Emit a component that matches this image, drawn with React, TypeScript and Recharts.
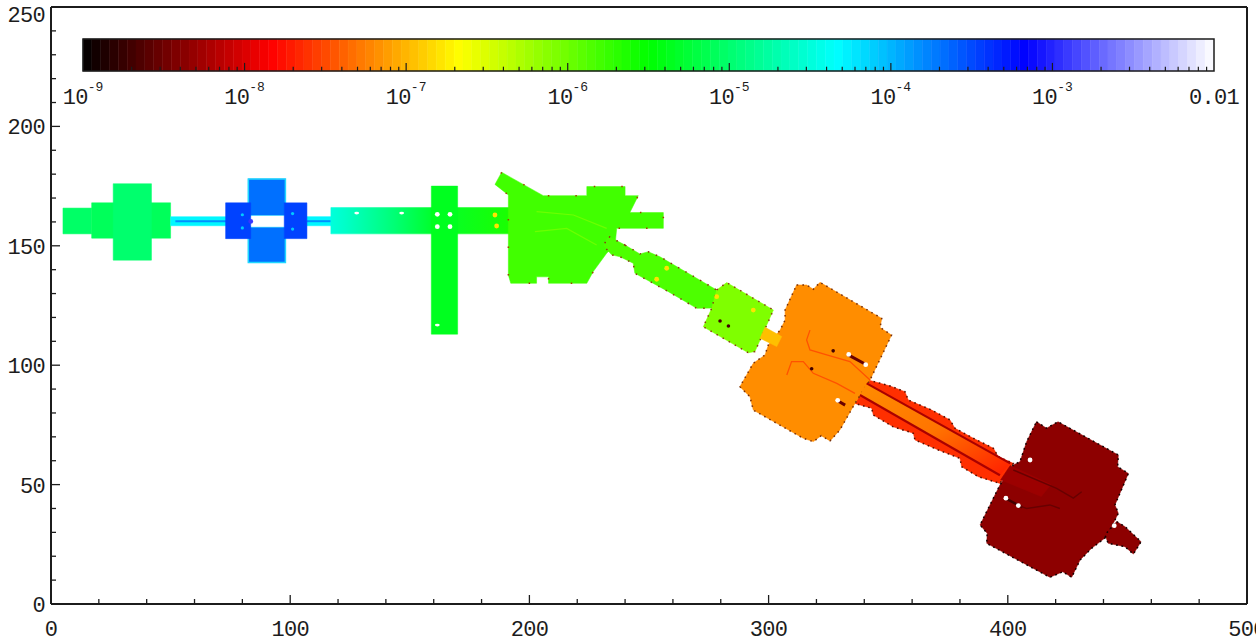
import React from 'react';
import { ComposedChart, XAxis, YAxis, Scatter, ReferenceArea, ReferenceLine } from 'recharts';

const FONT = '"Liberation Mono", monospace';
const INK = '#1c1c1c';

const xTicks = [0, 20, 40, 60, 80, 100, 120, 140, 160, 180, 200, 220, 240, 260, 280, 300, 320, 340, 360, 380, 400, 420, 440, 460, 480, 500];
const yTicks = [0, 10, 20, 30, 40, 50, 60, 70, 80, 90, 100, 110, 120, 130, 140, 150, 160, 170, 180, 190, 200, 210, 220, 230, 240, 250];

// colour bar
const cbarMin = 1e-9;
const cbarMax = 1e-2;
const cbarSteps = 128;
const cbarStops = ['#000000', '#ff0000', '#ffff00', '#00ff00', '#00ffff', '#0000ff', '#ffffff'];
const cbarLabels = [
  { x: 1e-9, y: 212.7, base: '10', exp: '-9' },
  { x: 1e-8, y: 212.7, base: '10', exp: '-8' },
  { x: 1e-7, y: 212.7, base: '10', exp: '-7' },
  { x: 1e-6, y: 212.7, base: '10', exp: '-6' },
  { x: 1e-5, y: 212.7, base: '10', exp: '-5' },
  { x: 1e-4, y: 212.7, base: '10', exp: '-4' },
  { x: 1e-3, y: 212.7, base: '10', exp: '-3' },
  { x: 1e-2, y: 212.7, base: '0.01', exp: '' },
];
const cbarDecades = [1e-9, 1e-8, 1e-7, 1e-6, 1e-5, 1e-4, 1e-3, 1e-2];
const cbarMinors = [2, 3, 4, 5, 6, 7, 8, 9];

// map outlines, x/y in plot units
const crossArm = [[5, 155], [17, 155], [17, 165.8], [5, 165.8]];
const crossMid = [[17, 153.2], [50, 153.2], [50, 168], [17, 168]];
const crossUp = [[26, 144], [42, 144], [42, 176], [26, 176]];
const linkA = [[50, 158.4], [74, 158.4], [74, 162.2], [50, 162.2]];
const linkB = [[107, 158.4], [118, 158.4], [118, 162.2], [107, 162.2]];
const linkCoreA = [[52, 160.3], [74, 160.3]];
const linkCoreB = [[107, 160.3], [117, 160.3]];
const blueLeft = [[73, 153], [83.5, 153], [83.5, 168], [73, 168]];
const blueRight = [[97.5, 153], [107, 153], [107, 168], [97.5, 168]];
const blueUp = [[82.5, 162.5], [98, 162.5], [98, 178], [82.5, 178]];
const blueDown = [[82.5, 143], [98, 143], [98, 158], [82.5, 158]];
const blueHole = [[83.6, 158], [99, 158], [99, 162.5], [83.6, 162.5]];
const bar = [[117, 155], [192, 155], [192, 166], [117, 166]];
const stem = [[159, 113], [170, 113], [170, 175], [159, 175]];
const body = [
  [188.4, 180.8], [185.6, 175.7], [191.2, 171.3], [191.2, 137.8], [192.2, 134.3], [203, 134.3], [203, 137],
  [208, 137], [208, 134.3], [224, 134.3], [226.7, 139.2], [232.3, 146.9], [235.8, 150.3], [236.5, 157.3],
  [256, 157.3], [256, 163.9], [242, 163.9], [245.5, 171], [240, 171], [240, 174.8], [224, 174.8], [224, 171], [205.8, 171],
];
const bodyLineA = [[202.3, 155.9], [215.6, 157.3], [228.1, 150.3]];
const bodyLineB = [[203, 164.3], [218.4, 162.9], [232.3, 157.3]];
const corridor = [
  [240, 150.3], [246.2, 146.6], [249.7, 147.5], [254.6, 145.4], [278.3, 131.5], [279, 124], [270, 123.8],
  [258.1, 130.8], [244.1, 138.5], [243.4, 142.7], [237.9, 145.4], [234.4, 146.2], [231, 150], [233, 154],
];
const panel = [
  [278.3, 131.5], [282.5, 134.6], [302, 123.1], [294.3, 105.7], [291.5, 105.2], [272.7, 116.1], [276.2, 123.8],
];
const neck = [[298.5, 115.9], [305.5, 112], [303.4, 107.8], [296.4, 111.3]];
const orangeBlock = [
  [311.7, 133.6], [315.9, 133.6], [318.7, 131.8], [321.5, 134.7], [347.3, 119.6], [346.6, 115.8], [351.4, 112.6],
  [342.4, 93.8], [336.1, 84], [329.8, 72.9], [325.7, 68.3], [322, 70.5], [318.7, 68], [314.5, 69.4], [293.6, 81.2], [292.2, 86.8],
  [288, 91], [293.6, 100.8], [298.5, 104.3], [299.9, 108.5], [304.8, 114.7], [306.9, 118.9], [306.9, 123.1],
];
const orangeLineA = [[317.3, 114.7], [315.9, 110.6], [317.3, 106.4], [324.3, 104.3], [334, 101.5], [342.4, 93.8]];
const orangeLineB = [[307.6, 95.9], [309.6, 101.5], [314.5, 101.5], [318.7, 96.6], [328.5, 92.4], [336.1, 88.2]];
const orangeSlotA = [[333.3, 104.3], [340.3, 100.5]];
const orangeSlotB = [[328.9, 85.1], [332, 83.3]];
const wing = [
  [341.7, 93.8], [350.8, 91.3], [357, 88.9], [358.4, 85.4], [368.2, 81.2], [375.8, 77.1], [377.9, 73.6], [385.6, 69.4],
  [394, 65.2], [396, 61.7], [402.3, 58.9], [396.7, 50.5], [387.7, 53.3], [380.7, 57.5], [380, 61], [371, 64.5],
  [361.2, 68.7], [360.5, 71.5], [352.1, 74.2], [343.8, 79.1], [343.1, 82], [336, 84],
];
const core = [[341, 92.4], [401, 58.9], [396.7, 53.9], [338.2, 87.5]];
const coreEdgeTop = [[341, 92.4], [401, 58.9]];
const coreEdgeBottom = [[338.2, 87.5], [396.7, 53.9]];
const darkBlock = [
  [412, 76.3], [416.2, 73.6], [421, 76.3], [446.2, 62.4], [445.9, 57.5], [450.4, 54.7], [444.8, 41.5], [446.2, 38],
  [441.3, 28.2], [435, 23.3], [430.2, 18.4], [426.7, 11.2], [423, 13.5], [417.6, 11.2], [391.2, 25.4], [391.4, 29.6], [388.4, 33.1],
  [396.7, 49.8], [402.3, 58.2], [405.1, 59.6], [407.9, 68],
];
const darkTail = [[445.5, 34.5], [449, 32.4], [455.7, 26.1], [452.5, 20.9], [449, 24], [442, 25.4], [440.6, 28.9]];
const darkInlet = [[401, 58], [418, 50], [414, 45], [397, 52]];
const darkSlot = [[399.5, 44], [406, 40.5]];
const darkLineA = [[402.3, 56.1], [420.4, 48.4], [427.4, 44.3], [430.9, 47]];
const darkLineB = [[404.4, 41.2], [407.9, 40], [417.6, 41.5], [421.8, 40]];

const holes = [
  { x: 161.5, y: 163.2 }, { x: 166.8, y: 163.2 }, { x: 161.5, y: 158 }, { x: 166.8, y: 158 },
  { x: 409.3, y: 60.3 }, { x: 399.2, y: 44.3 }, { x: 404.4, y: 41.2 }, { x: 444.5, y: 32.8 },
  { x: 333.5, y: 104.5 }, { x: 340.6, y: 100.2 }, { x: 328.9, y: 85.3 },
];
const smallHoles = [{ x: 127.8, y: 163.7 }, { x: 146.6, y: 163.7 }, { x: 161.5, y: 116.8 }];
const hotSpots = [
  { x: 185.6, y: 162.9 }, { x: 186.3, y: 158.3 }, { x: 257.4, y: 140.6 }, { x: 253.2, y: 136 },
  { x: 278.3, y: 128.7 }, { x: 293.6, y: 123.1 },
];
const darkSpots = [{ x: 279.7, y: 118.5 }, { x: 283.2, y: 116.4 }, { x: 327, y: 106 }, { x: 318, y: 98.5 }];
const blueDarkSpots = [{ x: 83.5, y: 160.2 }];
const blueLightSpots = [{ x: 80, y: 163 }, { x: 80, y: 157.5 }, { x: 101, y: 163.5 }, { x: 101, y: 157 }];

const colourOf = (v: number) => {
  const t = (Math.log10(v) + 9) / 7;
  const pos = Math.min(Math.max(t, 0), 1) * (cbarStops.length - 1);
  const i = Math.min(Math.floor(pos), cbarStops.length - 2);
  const f = pos - i;
  const hex = (s: string, at: number) => parseInt(s.slice(at, at + 2), 16);
  const c = [1, 3, 5].map((at) => Math.round(hex(cbarStops[i], at) * (1 - f) + hex(cbarStops[i + 1], at) * f));
  return `rgb(${c[0]},${c[1]},${c[2]})`;
};

const toPoints = (pairs: number[][]) => pairs.map(([x, y]) => ({ x, y }));
const noDot = () => <g />;

const fillLine = (fill: string, rim?: string, dash?: string) => (props: any) => {
  const pts = props.points.map((p: any) => `${p.x},${p.y}`).join(' ');
  return (
    <g style={{ filter: 'blur(0.7px)' }}>
      <polygon points={pts} fill={fill} stroke={fill} strokeWidth={0.5} />
      {rim && <polygon points={pts} fill="none" stroke={rim} strokeWidth={1.5} strokeDasharray={dash} />}
    </g>
  );
};

const strokeLine = (colour: string, width: number) => (props: any) => (
  <polyline
    points={props.points.map((p: any) => `${p.x},${p.y}`).join(' ')}
    fill="none"
    stroke={colour}
    strokeWidth={width}
    style={{ filter: 'blur(0.7px)' }}
  />
);

const region = (key: string, pairs: number[][], value: number, rim?: string, dash?: string) => (
  <Scatter key={key} data={toPoints(pairs)} line={fillLine(colourOf(value), rim, dash)} shape={noDot} isAnimationActive={false} />
);
const trace = (key: string, pairs: number[][], value: number, width: number) => (
  <Scatter key={key} data={toPoints(pairs)} line={strokeLine(colourOf(value), width)} shape={noDot} isAnimationActive={false} />
);
const spots = (key: string, data: any[], value: number, r: number) => (
  <Scatter key={key} data={data} isAnimationActive={false}
    shape={(p: any) => <circle cx={p.cx} cy={p.cy} r={r} fill={colourOf(value)} style={{ filter: 'blur(0.6px)' }} />} />
);

const tickText = { fontFamily: FONT, fontSize: 22, letterSpacing: -0.7, fill: INK };

const BottomTick = ({ x, y, payload }: any) => {
  const major = payload.value % 100 === 0;
  return (
    <g>
      <line x1={x} x2={x} y1={y} y2={y - (major ? 9 : 5)} stroke={INK} strokeWidth={1.3} />
      {major && <text x={x} y={y + 32} textAnchor="middle" {...tickText}>{payload.value}</text>}
    </g>
  );
};
const TopTick = ({ x, y, payload }: any) => {
  const major = payload.value % 100 === 0;
  return <line x1={x} x2={x} y1={y} y2={y + (major ? 9 : 5)} stroke={INK} strokeWidth={1.3} />;
};
const LeftTick = ({ x, y, payload }: any) => {
  const major = payload.value % 50 === 0;
  return (
    <g>
      <line x1={x} x2={x + (major ? 9 : 5)} y1={y} y2={y} stroke={INK} strokeWidth={1.3} />
      {major && <text x={x - 6} y={Math.max(y, 14) + 8} textAnchor="end" {...tickText}>{payload.value}</text>}
    </g>
  );
};
const RightTick = ({ x, y, payload }: any) => {
  const major = payload.value % 50 === 0;
  return <line x1={x} x2={x - (major ? 9 : 5)} y1={y} y2={y} stroke={INK} strokeWidth={1.3} />;
};

const CbarLabel = ({ cx, cy, payload }: any) => (
  <text x={cx} y={cy + 8} textAnchor="middle" {...tickText}>
    {payload.base}
    {payload.exp && <tspan dy={-13} fontSize={13} letterSpacing={0}>{payload.exp}</tspan>}
  </text>
);

const cbarCells = Array.from({ length: cbarSteps }, (_, i) => {
  const lo = cbarMin * Math.pow(10, (7 * i) / cbarSteps);
  const hi = cbarMin * Math.pow(10, (7 * (i + 1)) / cbarSteps);
  return { lo, hi, colour: colourOf(Math.sqrt(lo * hi)) };
});

export default function App() {
  return (
    <div style={{ position: 'absolute', left: 0, top: 0, width: 1256, height: 642, overflow: 'hidden', background: '#fff' }}>
      <ComposedChart width={1256} height={642} margin={{ top: 0, right: 0, bottom: 0, left: 0 }}>
        <defs>
          <linearGradient id="barFade" x1="0" y1="0" x2="1" y2="0">
            <stop offset="0" stopColor={colourOf(3.2e-5)} />
            <stop offset="0.08" stopColor={colourOf(2.6e-5)} />
            <stop offset="0.35" stopColor={colourOf(1.1e-5)} />
            <stop offset="0.55" stopColor={colourOf(5.3e-6)} />
            <stop offset="1" stopColor={colourOf(2.4e-6)} />
          </linearGradient>
          <linearGradient id="coreFade" x1="0" y1="0" x2="1" y2="1">
            <stop offset="0" stopColor={colourOf(6.5e-8)} />
            <stop offset="0.5" stopColor={colourOf(5e-8)} />
            <stop offset="1" stopColor={colourOf(2e-8)} />
          </linearGradient>
        </defs>
        <XAxis dataKey="x" type="number" domain={[0, 500]} ticks={xTicks} interval={0} height={38} tickSize={0} tickMargin={0}
          tickLine={false} tick={BottomTick} axisLine={{ stroke: INK, strokeWidth: 2 }} />
        <XAxis xAxisId="top" orientation="top" dataKey="x" type="number" domain={[0, 500]} ticks={xTicks} interval={0} height={7} tickSize={0} tickMargin={0}
          tickLine={false} tick={TopTick} axisLine={{ stroke: INK, strokeWidth: 2 }} />
        <XAxis xAxisId="cb" dataKey="x" type="number" scale="log" domain={[cbarMin, cbarMax]} padding={{ left: 32, right: 33 }} hide />
        <YAxis dataKey="y" type="number" domain={[0, 250]} ticks={yTicks} interval={0} width={51} tickSize={0} tickMargin={0}
          tickLine={false} tick={LeftTick} axisLine={{ stroke: INK, strokeWidth: 2 }} />
        <YAxis yAxisId="right" orientation="right" dataKey="y" type="number" domain={[0, 250]} ticks={yTicks} interval={0} width={9} tickSize={0} tickMargin={0}
          tickLine={false} tick={RightTick} axisLine={{ stroke: INK, strokeWidth: 2 }} />

        {cbarCells.map((c, i) => (
          <ReferenceArea key={i} xAxisId="cb" x1={c.lo} x2={c.hi} y1={223.2} y2={236.6} fill={c.colour} fillOpacity={1} stroke={c.colour} strokeWidth={0.5} />
        ))}
        <ReferenceArea xAxisId="cb" x1={cbarMin} x2={cbarMax} y1={223.2} y2={236.6} fill="none" stroke={INK} strokeWidth={1.5} />
        {cbarDecades.slice(0, -1).flatMap((d) => cbarMinors.map((m) => (
          <ReferenceLine key={d * m} xAxisId="cb" stroke={INK} strokeWidth={1.2}
            segment={[{ x: d * m, y: 223.2 }, { x: d * m, y: 225 }]} />
        )))}
        {cbarDecades.slice(1, -1).map((d) => (
          <ReferenceLine key={d} xAxisId="cb" stroke={INK} strokeWidth={1.2}
            segment={[{ x: d, y: 223.2 }, { x: d, y: 226.6 }]} />
        ))}
        <Scatter xAxisId="cb" data={cbarLabels} shape={CbarLabel} isAnimationActive={false} />

        {region('crossArm', crossArm, 9.3e-6)}
        {region('crossMid', crossMid, 8.2e-6)}
        {region('crossUp', crossUp, 1.0e-5)}
        {region('linkA', linkA, 5e-5)}
        {region('linkB', linkB, 5e-5)}
        {trace('linkCoreA', linkCoreA, 1.5e-4, 2)}
        {trace('linkCoreB', linkCoreB, 1.5e-4, 2)}
        {region('blueUp', blueUp, 2.1e-4, '#20d8ff')}
        {region('blueDown', blueDown, 2.1e-4, '#20d8ff')}
        <Scatter data={toPoints(blueHole)} line={fillLine('#ffffff')} shape={noDot} isAnimationActive={false} />
        {region('blueLeft', blueLeft, 3.4e-4)}
        {region('blueRight', blueRight, 3.4e-4)}
        {spots('blueDark', blueDarkSpots, 1.2e-3, 2.4)}
        {spots('blueLight', blueLightSpots, 8e-5, 1.6)}
        <Scatter data={toPoints(bar)} line={fillLine('url(#barFade)')} shape={noDot} isAnimationActive={false} />
        {region('stem', stem, 4.4e-6)}
        {region('body', body, 1.6e-6, '#a04000', '1.5 26')}
        {trace('bodyLineA', bodyLineA, 1e-6, 1.2)}
        {trace('bodyLineB', bodyLineB, 1e-6, 1.2)}
        {region('corridor', corridor, 1.4e-6, '#8a3a10', '1.5 7')}
        {region('panel', panel, 8.3e-7, '#8a3a10', '1.5 5.5')}
        {region('wing', wing, 2.4e-8, '#500f00', '1.6 3.8')}
        {region('orangeBlock', orangeBlock, 6.5e-8, '#7a3008', '1.6 4.2')}
        {region('neck', neck, 1.1e-7)}
        {trace('orangeLineA', orangeLineA, 3.5e-8, 1.3)}
        {trace('orangeLineB', orangeLineB, 3.5e-8, 1.3)}
        {trace('orangeSlotA', orangeSlotA, 3e-9, 3)}
        {trace('orangeSlotB', orangeSlotB, 3e-9, 3)}
        <Scatter data={toPoints(core)} line={fillLine('url(#coreFade)')} shape={noDot} isAnimationActive={false} />
        {trace('coreEdgeTop', coreEdgeTop, 6e-9, 2.2)}
        {trace('coreEdgeBottom', coreEdgeBottom, 6e-9, 2.2)}
        {region('darkBlock', darkBlock, 4.4e-9, '#150000', '1.8 3.6')}
        {region('darkTail', darkTail, 4.4e-9, '#150000', '1.8 3.6')}
        {region('darkInlet', darkInlet, 5.2e-9)}
        {trace('darkSlot', darkSlot, 2e-9, 2.5)}
        {trace('darkLineA', darkLineA, 3e-9, 1.5)}
        {trace('darkLineB', darkLineB, 3e-9, 1.5)}

        {spots('hot', hotSpots, 1.6e-7, 2.4)}
        {spots('dark', darkSpots, 2e-9, 1.8)}
        <Scatter data={holes} shape={(p: any) => <circle cx={p.cx} cy={p.cy} r={2.4} fill="#ffffff" style={{ filter: 'blur(0.4px)' }} />} isAnimationActive={false} />
        <Scatter data={smallHoles} shape={(p: any) => <ellipse cx={p.cx} cy={p.cy} rx={2.4} ry={1.4} fill="#ffffff" style={{ filter: 'blur(0.5px)' }} />} isAnimationActive={false} />
      </ComposedChart>
    </div>
  );
}
